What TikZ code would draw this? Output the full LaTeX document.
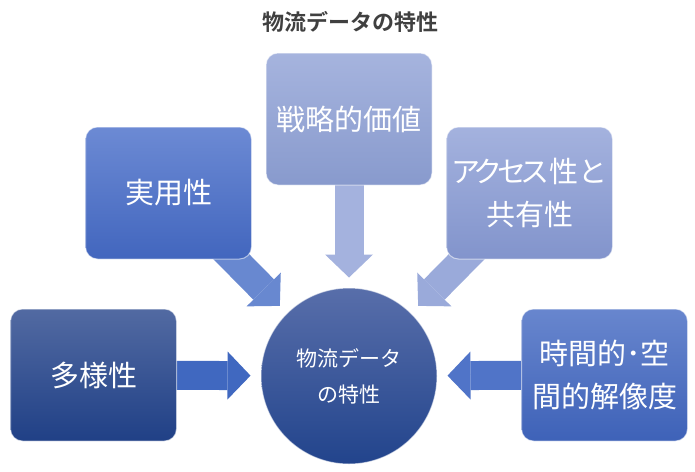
\documentclass[tikz,border=0pt]{standalone}
\usepackage{fontspec}
\setmainfont{Noto Sans CJK JP}[BoldFont={Noto Sans CJK JP Bold}]
\newfontfamily\jpnarrow{Noto Sans CJK JP}[LetterSpace=-18]
\usetikzlibrary{arrows.meta,backgrounds}

\definecolor{titlegray}{RGB}{64,64,64}
\definecolor{tayouA}{RGB}{82,106,162}
\definecolor{tayouB}{RGB}{32,64,134}
\definecolor{jitsuA}{RGB}{108,138,212}
\definecolor{jitsuB}{RGB}{66,102,190}
\definecolor{senA}{RGB}{166,180,222}
\definecolor{senB}{RGB}{136,154,205}
\definecolor{accA}{RGB}{164,178,222}
\definecolor{accB}{RGB}{130,148,204}
\definecolor{jikanA}{RGB}{104,134,206}
\definecolor{jikanB}{RGB}{62,98,184}
\definecolor{coreA}{RGB}{88,110,170}
\definecolor{coreB}{RGB}{34,68,140}

\begin{document}
\begin{tikzpicture}[x=1pt,y=-1pt,
  box/.style={rounded corners=12pt,minimum width=166pt,minimum height=132pt,inner sep=0pt,
    draw=white,draw opacity=0.55,line width=1pt,text=white,align=center,
    font=\fontsize{29}{43}\selectfont},
  blockarrow/.style={line width=29pt,-{Triangle[length=23pt,width=48pt,line width=0pt]},
    shorten >=10pt}]
\useasboundingbox (0,0) rectangle (695,471);

\node[font=\bfseries\fontsize{22}{22}\selectfont,text=titlegray] (title) at (350,22) {物流データの特性};

\node[box,top color=tayouA,bottom color=tayouB] (tayou) at (93.5,375) {多様性};
\node[box,top color=jitsuA,bottom color=jitsuB] (jitsu) at (168.5,193) {実用性};
\node[box,top color=senA,bottom color=senB] (senryaku) at (349,119) {戦略的価値};
\node[box,top color=accA,bottom color=accB] (access) at (529.5,193) {{\jpnarrow アクセス}性と\\共有性};
\node[box,top color=jikanA,bottom color=jikanB] (jikan) at (604.5,375) {時間的･空\\間的解像度};

\node[circle,minimum size=176pt,top color=coreA,bottom color=coreB,draw=white,draw opacity=0.55,
  line width=1pt,text=white,align=center,font=\fontsize{21}{36}\selectfont] (core) at (349,376) {物流データ\\の特性};

% block arrows behind the boxes
\begin{scope}[on background layer]
\path[draw,blockarrow,color={rgb,255:red,64;green,104;blue,192}] (tayou.center) -- (core);
\path[draw,blockarrow,color={rgb,255:red,104;green,136;blue,208}] (jitsu.center) -- (core);
\path[draw,blockarrow,color={rgb,255:red,164;green,178;blue,222}] (senryaku.center) -- (core);
\path[draw,blockarrow,color={rgb,255:red,154;green,170;blue,218}] (access.center) -- (core);
\path[draw,blockarrow,color={rgb,255:red,80;green,116;blue,200}] (jikan.center) -- (core);
\end{scope}
\end{tikzpicture}
\end{document}
